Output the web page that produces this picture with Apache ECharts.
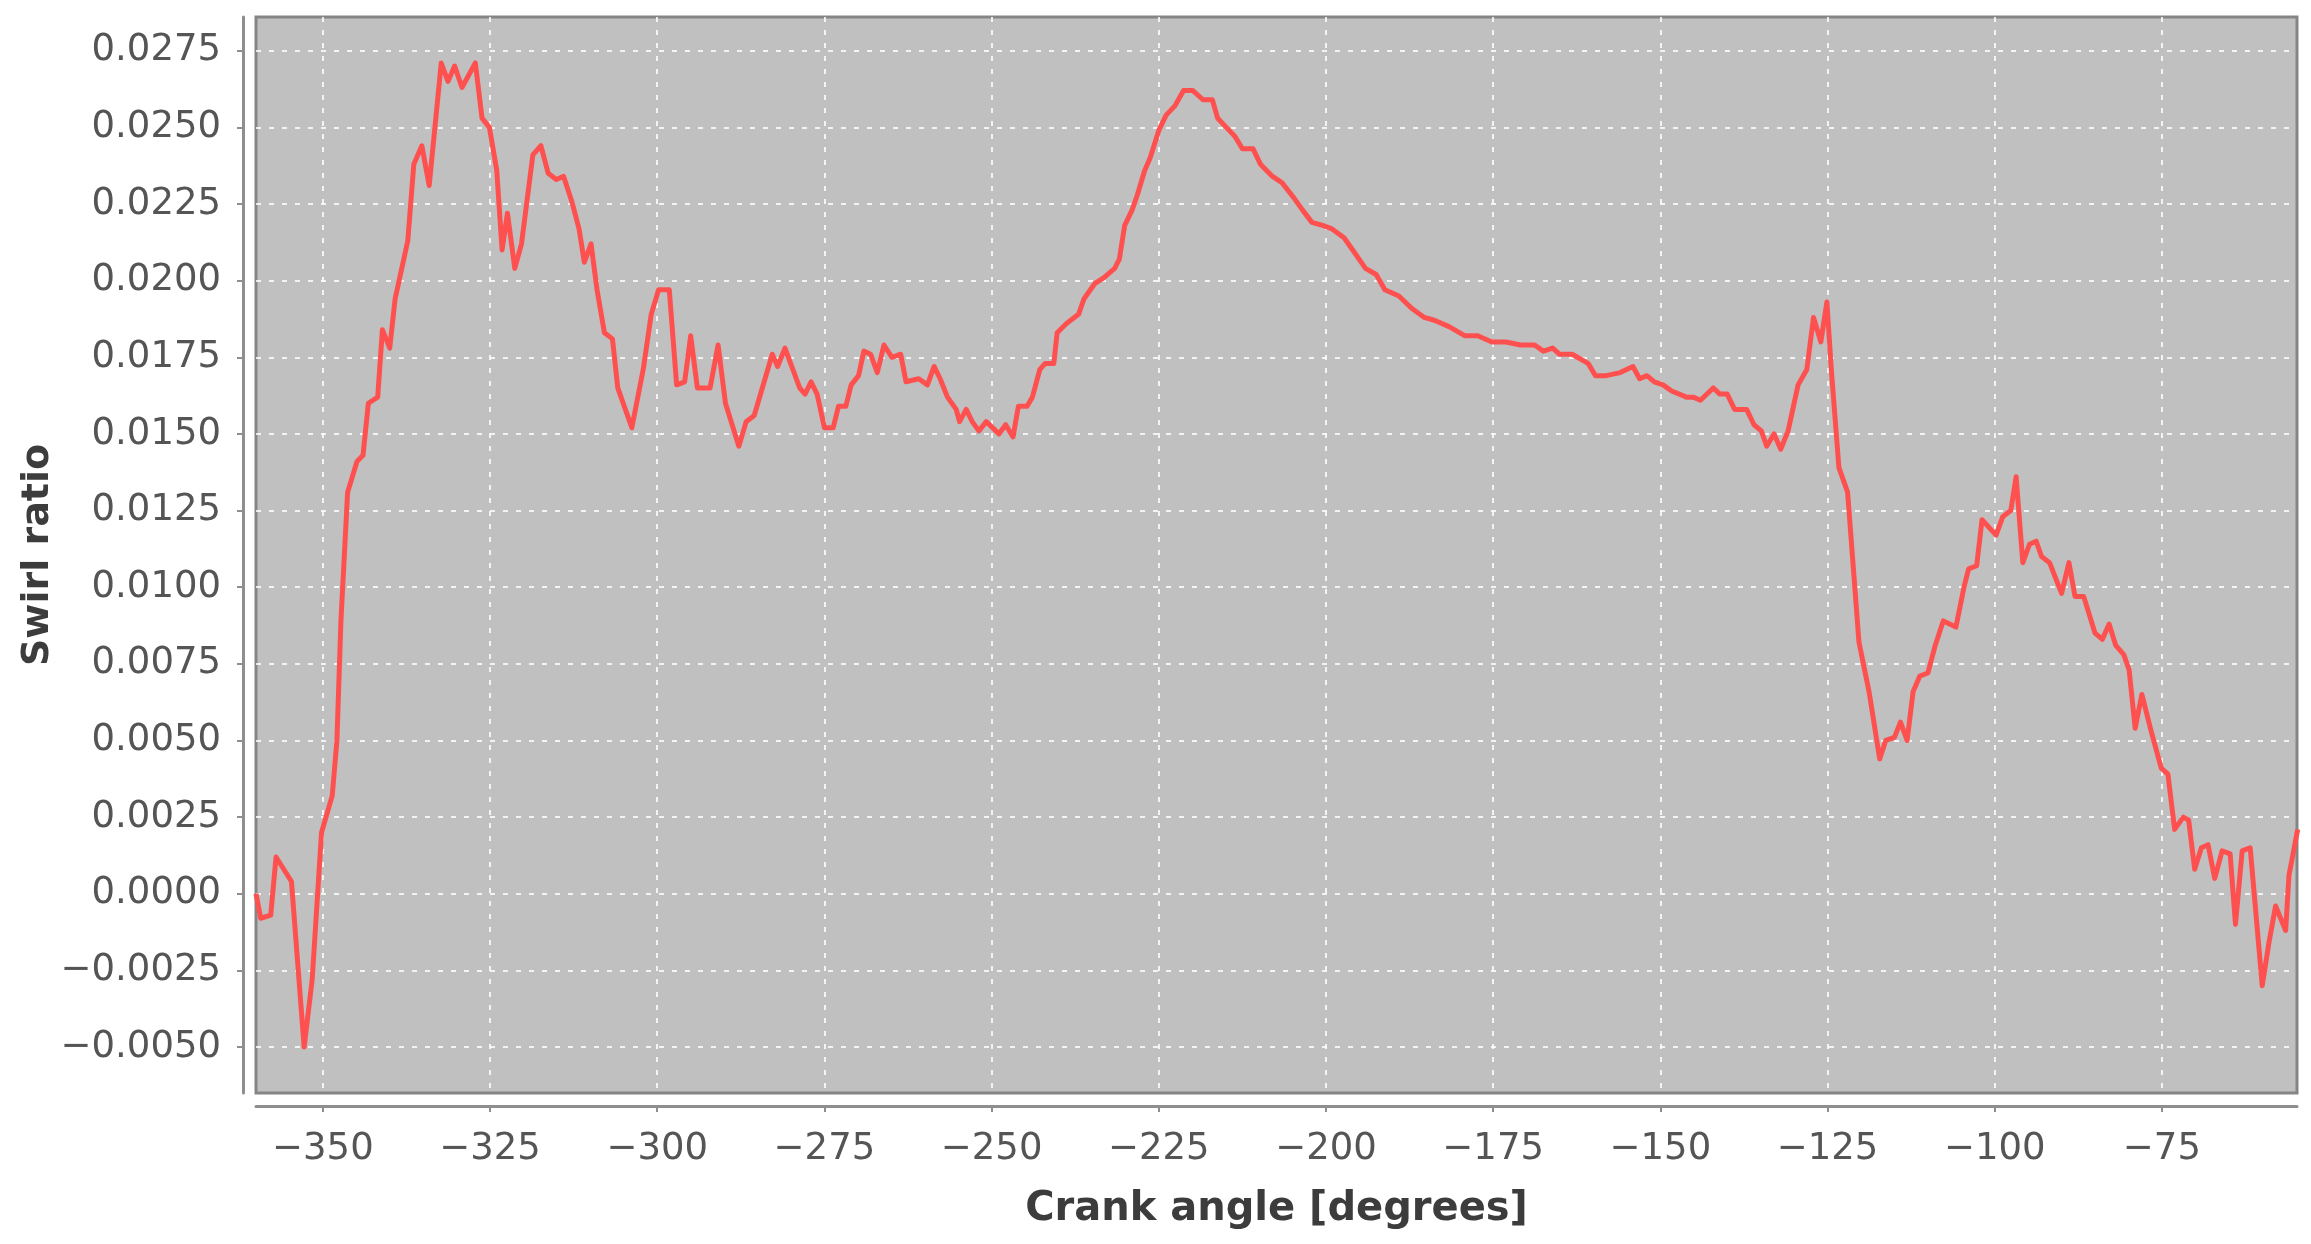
<!DOCTYPE html>
<html>
<head>
<meta charset="utf-8">
<script src="https://cdn.jsdelivr.net/npm/echarts@6/dist/echarts.min.js"></script>
<style>
html,body{margin:0;padding:0;background:#ffffff;}
#chart{width:2311px;height:1244px;}
</style>
</head>
<body>
<div id="chart"></div>
<script>
// Crank angle [degrees] of each traced point
const crankAngle = [
  -360.0, -359.3, -357.8, -357.0, -354.7, -352.8, -351.6, -350.2, -348.6, -347.9,
  -347.3, -346.3, -344.9, -344.0, -343.2, -341.8, -341.1, -340.0, -339.2, -337.3,
  -336.4, -335.2, -334.1, -332.3, -331.3, -330.3, -329.2, -327.2, -326.2, -325.1,
  -324.0, -323.2, -322.4, -321.3, -320.3, -318.6, -317.4, -316.3, -315.1, -314.0,
  -312.8, -311.7, -310.9, -309.9, -309.0, -307.9, -306.7, -305.9, -303.8, -302.1,
  -300.9, -299.8, -298.2, -297.1, -295.9, -295.0, -294.0, -292.1, -290.9, -289.8,
  -287.8, -286.7, -285.5, -282.8, -282.0, -280.9, -278.7, -277.9, -277.0, -276.1,
  -275.0, -273.7, -272.9, -271.8, -271.0, -269.9, -269.1, -268.1, -267.1, -266.1,
  -264.9, -263.6, -262.8, -260.9, -259.6, -258.6, -257.7, -256.6, -255.3, -254.8,
  -253.8, -252.9, -251.9, -250.8, -248.9, -247.9, -246.8, -246.0, -244.7, -243.9,
  -242.8, -242.0, -240.7, -240.2, -238.8, -237.0, -236.2, -234.6, -233.2, -231.6,
  -230.9, -230.1, -229.0, -228.2, -227.1, -226.3, -225.0, -223.9, -222.6, -221.3,
  -219.9, -218.4, -217.0, -216.2, -214.9, -213.6, -212.5, -210.9, -209.8, -208.0,
  -206.6, -204.8, -203.5, -202.1, -200.5, -199.2, -197.3, -196.0, -194.1, -192.5,
  -191.2, -189.1, -187.2, -185.3, -183.7, -181.6, -179.2, -177.3, -175.2, -173.1,
  -170.9, -168.8, -167.5, -166.1, -165.1, -163.2, -160.8, -159.7, -158.1, -156.0,
  -154.1, -153.1, -152.0, -150.9, -149.6, -148.3, -146.1, -145.1, -144.0, -142.1,
  -141.1, -140.0, -138.9, -137.1, -136.0, -134.9, -134.1, -133.0, -132.0, -130.9,
  -129.4, -128.1, -127.1, -126.0, -125.1, -124.4, -123.3, -122.0, -120.3, -118.8,
  -117.2, -116.3, -115.0, -114.1, -113.1, -112.2, -111.2, -110.0, -108.9, -107.7,
  -105.8, -104.6, -103.9, -102.7, -101.9, -99.8, -98.8, -97.6, -96.8, -95.8,
  -94.8, -93.8, -93.0, -91.8, -90.0, -88.9, -88.0, -86.7, -85.0, -83.9,
  -82.9, -81.9, -80.7, -79.9, -79.0, -78.0, -76.6, -75.1, -74.1, -73.1,
  -71.8, -71.0, -70.1, -69.1, -68.1, -67.1, -66.0, -64.8, -64.0, -63.0,
  -61.8, -60.0, -59.0, -58.0, -56.5, -56.0, -54.7
];
// Swirl ratio at each crank angle
const swirlRatio = [
  0.0000, -0.0008, -0.0007, 0.0012, 0.0004, -0.0050, -0.0028, 0.0020, 0.0032, 0.0050,
  0.0089, 0.0131, 0.0141, 0.0143, 0.0160, 0.0162, 0.0184, 0.0178, 0.0194, 0.0213,
  0.0238, 0.0244, 0.0231, 0.0271, 0.0265, 0.0270, 0.0263, 0.0271, 0.0253, 0.0250,
  0.0236, 0.0210, 0.0222, 0.0204, 0.0212, 0.0241, 0.0244, 0.0235, 0.0233, 0.0234,
  0.0226, 0.0217, 0.0206, 0.0212, 0.0197, 0.0183, 0.0181, 0.0165, 0.0152, 0.0171,
  0.0189, 0.0197, 0.0197, 0.0166, 0.0167, 0.0182, 0.0165, 0.0165, 0.0179, 0.0160,
  0.0146, 0.0154, 0.0156, 0.0176, 0.0172, 0.0178, 0.0165, 0.0163, 0.0167, 0.0163,
  0.0152, 0.0152, 0.0159, 0.0159, 0.0166, 0.0169, 0.0177, 0.0176, 0.0170, 0.0179,
  0.0175, 0.0176, 0.0167, 0.0168, 0.0166, 0.0172, 0.0168, 0.0162, 0.0158, 0.0154,
  0.0158, 0.0154, 0.0151, 0.0154, 0.0150, 0.0153, 0.0149, 0.0159, 0.0159, 0.0162,
  0.0171, 0.0173, 0.0173, 0.0183, 0.0186, 0.0189, 0.0194, 0.0199, 0.0201, 0.0204,
  0.0207, 0.0218, 0.0223, 0.0228, 0.0236, 0.0240, 0.0249, 0.0254, 0.0257, 0.0262,
  0.0262, 0.0259, 0.0259, 0.0253, 0.0250, 0.0247, 0.0243, 0.0243, 0.0238, 0.0234,
  0.0232, 0.0227, 0.0223, 0.0219, 0.0218, 0.0217, 0.0214, 0.0210, 0.0204, 0.0202,
  0.0197, 0.0195, 0.0191, 0.0188, 0.0187, 0.0185, 0.0182, 0.0182, 0.0180, 0.0180,
  0.0179, 0.0179, 0.0177, 0.0178, 0.0176, 0.0176, 0.0173, 0.0169, 0.0169, 0.0170,
  0.0172, 0.0168, 0.0169, 0.0167, 0.0166, 0.0164, 0.0162, 0.0162, 0.0161, 0.0165,
  0.0163, 0.0163, 0.0158, 0.0158, 0.0153, 0.0151, 0.0146, 0.0150, 0.0145, 0.0151,
  0.0166, 0.0171, 0.0188, 0.0180, 0.0193, 0.0170, 0.0139, 0.0131, 0.0082, 0.0066,
  0.0044, 0.0050, 0.0051, 0.0056, 0.0050, 0.0066, 0.0071, 0.0072, 0.0081, 0.0089,
  0.0087, 0.0100, 0.0106, 0.0107, 0.0122, 0.0117, 0.0123, 0.0125, 0.0136, 0.0108,
  0.0114, 0.0115, 0.0110, 0.0108, 0.0098, 0.0108, 0.0097, 0.0097, 0.0085, 0.0083,
  0.0088, 0.0081, 0.0078, 0.0073, 0.0054, 0.0065, 0.0053, 0.0041, 0.0039, 0.0021,
  0.0025, 0.0024, 0.0008, 0.0015, 0.0016, 0.0005, 0.0014, 0.0013, -0.0010, 0.0014,
  0.0015, -0.0030, -0.0016, -0.0004, -0.0012, 0.0006, 0.0021
];
// Axis tick values
const xTickValues = [-350, -325, -300, -275, -250, -225, -200, -175, -150, -125, -100, -75];
const yTickValues = [-0.005, -0.0025, 0, 0.0025, 0.005, 0.0075, 0.01, 0.0125, 0.015, 0.0175, 0.02, 0.0225, 0.025, 0.0275];

const seriesData = crankAngle.map((x, i) => [x, swirlRatio[i]]);

const FONT = 'DejaVu Sans';
const minus = s => String(s).replace('-', '\u2212');

const chart = echarts.init(document.getElementById('chart'), null, {renderer: 'canvas'});
chart.setOption({
  animation: false,
  backgroundColor: '#ffffff',
  grid: {
    left: 256, right: 14, top: 17, bottom: 151,
    show: true,
    backgroundColor: '#c0c0c0',
    borderColor: '#858585',
    borderWidth: 3
  },
  xAxis: {
    type: 'value',
    min: -360,
    max: -54.8,
    offset: 13,
    name: 'Crank angle [degrees]',
    nameLocation: 'middle',
    nameGap: 84,
    nameMoveOverlap: false,
    nameTextStyle: {fontFamily: FONT, fontSize: 40, fontWeight: 'bold', color: '#3c3c3c'},
    axisLine: {show: true, onZero: false, lineStyle: {color: '#8e8e8e', width: 3}},
    axisTick: {show: true, length: 6, customValues: xTickValues, lineStyle: {color: '#8e8e8e', width: 2}},
    axisLabel: {
      customValues: xTickValues,
      margin: 25,
      fontFamily: FONT, fontSize: 37, color: '#555555',
      formatter: v => minus(Math.round(v))
    },
    splitLine: {show: true, lineStyle: {color: 'rgba(255,255,255,0.8)', width: 2, type: [5, 8]}}
  },
  yAxis: {
    type: 'value',
    min: -0.0065,
    max: 0.0286,
    offset: 13,
    name: 'Swirl ratio',
    nameLocation: 'middle',
    nameGap: 186,
    nameMoveOverlap: false,
    nameTextStyle: {fontFamily: FONT, fontSize: 38, fontWeight: 'bold', color: '#3c3c3c'},
    axisLine: {show: true, onZero: false, lineStyle: {color: '#8e8e8e', width: 3}},
    axisTick: {show: true, length: 6, customValues: yTickValues, lineStyle: {color: '#8e8e8e', width: 2}},
    axisLabel: {
      customValues: yTickValues,
      margin: 22,
      fontFamily: FONT, fontSize: 37, color: '#555555',
      formatter: v => minus(Number(v).toFixed(4))
    },
    splitLine: {show: true, lineStyle: {color: 'rgba(255,255,255,0.8)', width: 2, type: [5, 8]}}
  },
  series: [{
    type: 'line',
    data: seriesData,
    showSymbol: false,
    symbol: 'none',
    clip: true,
    lineStyle: {color: '#ff5050', width: 5, join: 'round'},
    emphasis: {disabled: true}
  }]
});
</script>
</body>
</html>
